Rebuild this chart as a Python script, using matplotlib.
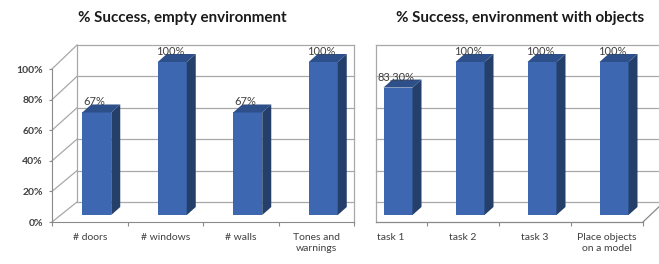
import matplotlib
matplotlib.use("Agg")
import matplotlib.pyplot as plt
from matplotlib.patches import Polygon

plt.rcParams['font.family'] = ['Lato', 'DejaVu Sans']

# ---- data ----
left_title = '% Success, empty environment'
left_categories = ['# doors', '# windows', '# walls', 'Tones and\nwarnings']
left_values = [67, 100, 67, 100]
left_value_labels = ['67%', '100%', '67%', '100%']

right_title = '% Success, environment with objects'
right_categories = ['task 1', 'task 2', 'task 3', 'Place objects\non a model']
right_values = [83.3, 100, 100, 100]
right_value_labels = ['83,30%', '100%', '100%', '100%']

y_ticks = [0, 20, 40, 60, 80, 100]
y_tick_labels = ['0%', '20%', '40%', '60%', '80%', '100%']

# ---- styling ----
W, H = 659, 264
PX_PER_PCT = 1.53
FRONT = '#3d67b0'
SIDE = '#243f6a'
TOP = '#2d4f8a'
GRID = '#a8a8a8'
AXIS = '#8a8a8a'
TXT = '#404040'

fig = plt.figure(figsize=(W / 100, H / 100), dpi=100)

Y0_PX = 222   # front floor level (pixels from top)
YTOP_PX = 45  # top of back wall


def panel(left_px, right_px, xmax, cat_px, depth_px, show_y, back_x1, cats, vals, labels, title, title_x):
    ax = fig.add_axes([left_px / W, (H - Y0_PX) / H, (right_px - left_px) / W, (Y0_PX - YTOP_PX) / H])
    ymax = (Y0_PX - YTOP_PX) / PX_PER_PCT
    ax.set_xlim(-0.5, xmax)
    ax.set_ylim(0, ymax)
    ax.patch.set_visible(False)
    for s in ax.spines.values():
        s.set_visible(False)

    DX = depth_px / cat_px
    DY0 = 20 / PX_PER_PCT
    k = (ymax - DY0) / 100.0

    def back_y(v):
        return DY0 + v * k

    x0 = -0.5
    # back wall gridlines
    for v in y_ticks:
        ax.plot([x0 + DX, back_x1], [back_y(v), back_y(v)], color=GRID, lw=0.9, clip_on=False, zorder=1)
    # back wall vertical edges
    if show_y:
        ax.plot([x0 + DX, x0 + DX], [back_y(0), back_y(100)], color=GRID, lw=0.9, clip_on=False, zorder=1)
        ax.plot([back_x1, back_x1], [0, back_y(100)], color=GRID, lw=0.9, clip_on=False, zorder=1)
        # side wall diagonals
        for v in y_ticks:
            ax.plot([x0, x0 + DX], [v, back_y(v)], color=GRID, lw=0.9, clip_on=False, zorder=1)
        ax.spines['left'].set_visible(True)
        ax.spines['left'].set_bounds(0, 100)
        ax.spines['left'].set_color(AXIS)
        ax.set_yticks(y_ticks)
        ax.set_yticklabels(y_tick_labels, fontweight='bold')
        ax.tick_params(axis='y', length=2.5, width=0.8, color=AXIS, pad=4, labelsize=7.5, labelcolor=TXT)
        ax.spines['bottom'].set_visible(True)
        ax.spines['bottom'].set_bounds(-0.5, 3.5)
        ax.spines['bottom'].set_color(AXIS)
    else:
        ax.set_yticks([])
        ax.plot([x0 + DX, x0 + DX], [0, back_y(100)], color=GRID, lw=0.9, clip_on=False, zorder=1)
        ax.plot([x0 + DX, 3.5], [0, 0], color=AXIS, lw=0.9, clip_on=False, zorder=1)
        ax.plot([3.5, 3.5 + DX], [0, back_y(0)], color=AXIS, lw=0.9, clip_on=False, zorder=1)

    # category ticks
    xs = list(range(len(cats)))
    ax.set_xticks(xs)
    ax.set_xticklabels(cats, fontsize=7.5, color=TXT, linespacing=1.25)
    ax.set_xticks([b + 0.5 for b in [-1] + xs] if show_y else [b + 0.5 for b in xs], minor=True)
    ax.tick_params(axis='x', which='major', length=0, pad=8)
    ax.tick_params(axis='x', which='minor', length=3, width=0.8, color=AXIS, direction='out')

    # 3D-looking bars
    sx = 7 / cat_px
    w = 29 / cat_px
    b0 = 7 / PX_PER_PCT
    ddx = 9 / cat_px
    ddy = 8 / PX_PER_PCT
    for i, (v, lab) in enumerate(zip(vals, labels)):
        bars = ax.bar(i + sx, v, width=w, bottom=b0, color=FRONT, zorder=3, linewidth=0)
        r = bars[0]
        xl, xr = r.get_x(), r.get_x() + r.get_width()
        yb, yt = r.get_y(), r.get_y() + r.get_height()
        ax.add_patch(Polygon([(xr, yb), (xr + ddx, yb + ddy), (xr + ddx, yt + ddy), (xr, yt)],
                             closed=True, facecolor=SIDE, edgecolor='none', zorder=3, clip_on=False))
        ax.add_patch(Polygon([(xl, yt), (xr, yt), (xr + ddx, yt + ddy), (xl + ddx, yt + ddy)],
                             closed=True, facecolor=TOP, edgecolor='none', zorder=3, clip_on=False))
        ax.text(i + sx - 2 / cat_px, yt + ddy - 1.8, lab, ha='center', va='bottom', fontsize=8,
                color=TXT, zorder=4)

    fig.text(title_x / W, 1 - 18 / H, title, ha='center', va='center', fontsize=10.9,
             fontweight='bold', color='#1a1a1a')
    return ax


panel(52, 354, 3.5, 75.5, 25, True, 3.5, left_categories, left_values, left_value_labels,
      left_title, 182)
panel(355, 659, 3.5 + 16 / 72, 72, 21, False, 3.5 + 16 / 72, right_categories, right_values,
      right_value_labels, right_title, 520)

fig.savefig('out.png', dpi=100, facecolor='white')
